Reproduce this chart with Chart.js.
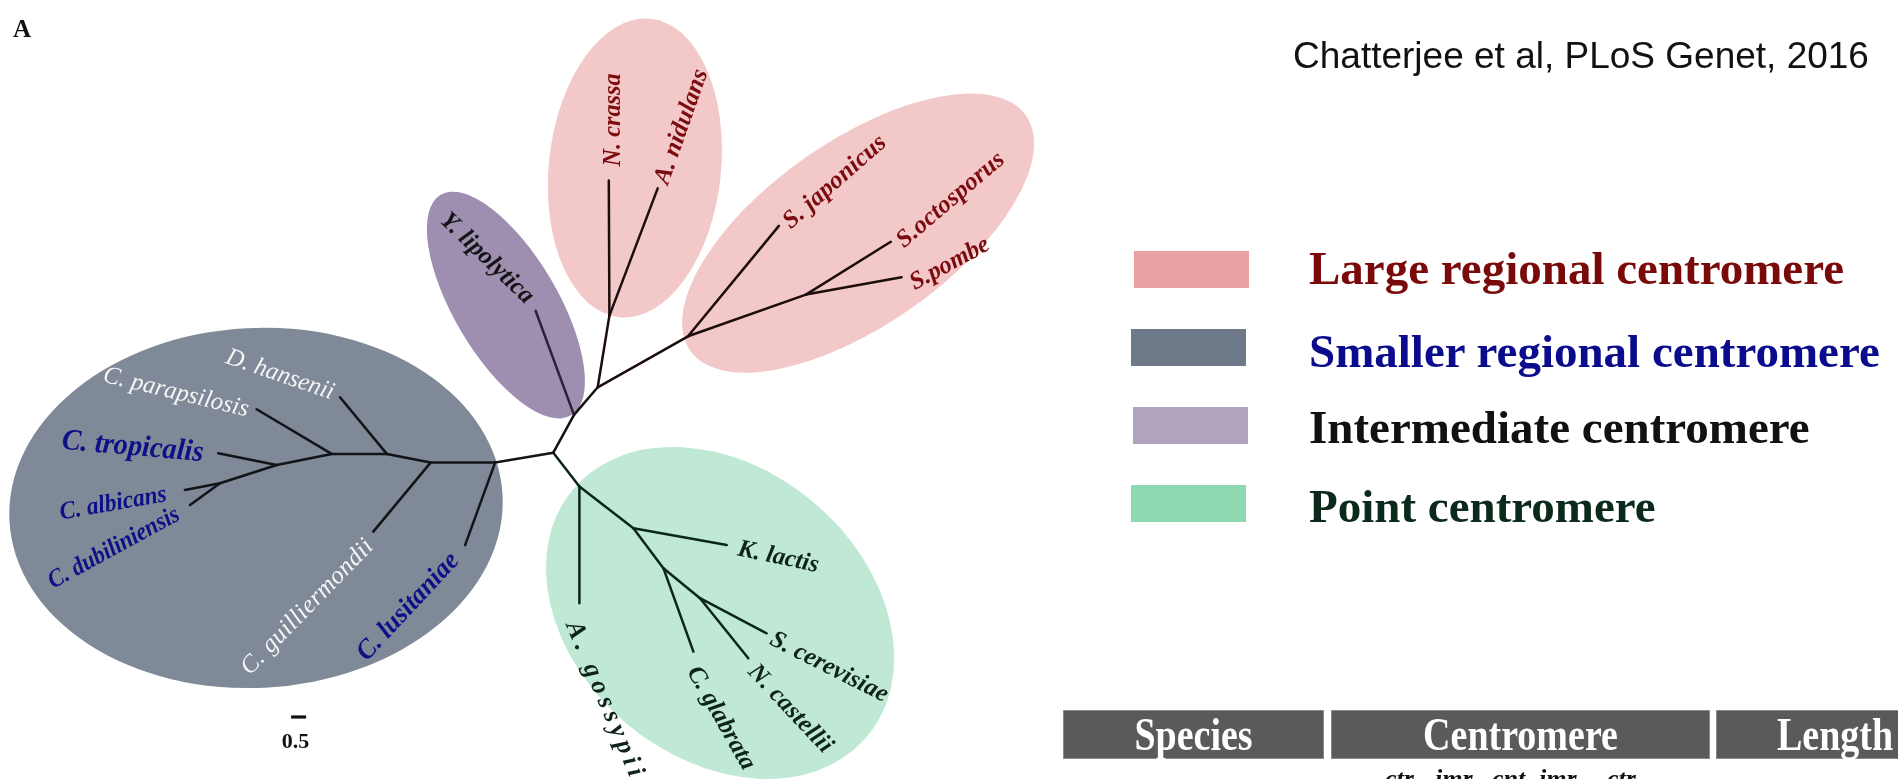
<!DOCTYPE html>
<html>
<head>
<meta charset="utf-8">
<title>Centromere types across the fungal phylogeny</title>
<script src="https://cdn.jsdelivr.net/npm/chart.js@4.4.1/dist/chart.umd.min.js"></script>
<style>
  html, body { margin: 0; padding: 0; width: 1898px; height: 779px; overflow: hidden; background: #ffffff; }
  #wrap { position: relative; width: 1898px; height: 779px; overflow: hidden; }
  #tree { position: absolute; left: 0; top: 0; }
  .txt { position: absolute; white-space: nowrap; line-height: 1; }
  .serif { font-family: 'Liberation Serif', 'Times New Roman', serif; }
  .sans { font-family: 'Liberation Sans', Arial, sans-serif; }
  .swatch { position: absolute; }
  .hdr { position: absolute; top: 710px; height: 49px; box-sizing: border-box; background: #5a5a5a;
         border: 1px solid #8a8a8a; color: #ffffff; display: flex; align-items: center; justify-content: center;
         font: bold 38px 'Liberation Serif', 'Times New Roman', serif; line-height: 1; }
  .hdr span { display: inline-block; transform: scaleY(1.2); transform-origin: 50% 55%; }
</style>
</head>
<body>
<div id="wrap">
  <canvas id="tree" width="1898" height="779"></canvas>
</div>
<script>
// ---- Tree topology: node ids, parent of each node, layout coordinates (branch-length units, root at 0,0) ----
const nodeIds = [
  'root',
  'n1', 'C. lusitaniae', 'n2', 'C. guilliermondii', 'n3', 'D. hansenii', 'n4', 'C. parapsilosis',
  'n5', 'C. tropicalis', 'n6', 'C. albicans', 'C. dubiliniensis',
  'n7', 'Y. lipolytica', 'n8', 'n9', 'N. crassa', 'A. nidulans', 'n10', 'S. japonicus', 'n11', 'S.octosporus', 'S.pombe',
  'n12', 'A. gossypii', 'n13', 'K. lactis', 'n14', 'C. glabrata', 'n15', 'N. castellii', 'S. cerevisiae'
];
const parentIds = [
  null,
  'root', 'n1', 'n1', 'n2', 'n2', 'n3', 'n3', 'n4',
  'n4', 'n5', 'n5', 'n6', 'n6',
  'root', 'n7', 'n7', 'n8', 'n9', 'n9', 'n8', 'n10', 'n10', 'n11', 'n11',
  'root', 'n12', 'n12', 'n13', 'n13', 'n14', 'n14', 'n15', 'n15'
];
const nodeX = [
  0,
  -1.94, -2.94, -4.09, -6.00, -5.55, -7.11, -7.39, -9.89,
  -9.22, -11.17, -11.11, -12.28, -12.11,
  0.69, -0.59, 1.48, 1.87, 1.85, 3.48, 4.49, 7.52, 8.42, 11.25, 11.61,
  0.87, 0.87, 2.67, 5.78, 3.67, 4.67, 4.89, 6.50, 7.11
];
const nodeY = [
  0,
  -0.33, -3.08, -0.33, -2.63, -0.04, 1.85, -0.04, 1.45,
  -0.41, -0.02, -1.02, -1.24, -1.74,
  1.26, 4.73, 2.18, 4.57, 9.07, 8.81, 3.88, 7.56, 5.27, 7.03, 5.85,
  -1.13, -5.02, -2.52, -3.08, -3.85, -6.63, -4.85, -6.85, -6.02
];
// centromere class of the clade each branch leads into
const nodeClade = [
  'trunk',
  'smaller', 'smaller', 'smaller', 'smaller', 'smaller', 'smaller', 'smaller', 'smaller',
  'smaller', 'smaller', 'smaller', 'smaller', 'smaller',
  'trunk', 'intermediate', 'trunk', 'large', 'large', 'large', 'large', 'large', 'large', 'large', 'large',
  'point', 'point', 'point', 'point', 'point', 'point', 'point', 'point', 'point'
];

// ---- Scale bar ----
const scaleBarLength = 0.5;

// ---- Legend ----
const legendLabels = ['Large regional centromere', 'Smaller regional centromere', 'Intermediate centromere', 'Point centromere'];

// ---- Table header ----
const tableHeaders = ['Species', 'Centromere', 'Length'];
const centromereParts = ['ctr', 'imr', 'cnt', 'imr', 'ctr'];

const citation = 'Chatterjee et al, PLoS Genet, 2016';
const panelLetter = 'A';

// ================= styling & layout =================
const PX_PER_UNIT = 30;
const ROOT_PX = { x: 553.3, y: 452.7 };
const W = 1898, H = 779;
const view = {
  xMin: -ROOT_PX.x / PX_PER_UNIT,
  xMax: (W - ROOT_PX.x) / PX_PER_UNIT,
  yMax: ROOT_PX.y / PX_PER_UNIT,
  yMin: (ROOT_PX.y - H) / PX_PER_UNIT
};

const branchColor = {
  trunk: '#121212', smaller: '#121417', intermediate: '#2a2236', large: '#1d0c0c', point: '#0b2619'
};

// clade shading: centre & semi-axes in branch-length units, rotation in degrees (screen, clockwise)
const hulls = [
  { cx: -9.91, cy: -1.84, rx: 8.23, ry: 6.00, rot: -3,   fill: '#7f8997' },
  { cx: -1.58, cy: 4.92,  rx: 4.27, ry: 1.73, rot: 59.4, fill: '#9e8fb1' },
  { cx: 2.72,  cy: 9.49,  rx: 2.87, ry: 5.00, rot: 6,    fill: '#f2c8c8' },
  { cx: 10.16, cy: 7.32,  rx: 6.83, ry: 3.07, rot: -35,  fill: '#f2c8c8' },
  { cx: 5.56,  cy: -5.34, rx: 6.40, ry: 4.83, rot: 40,   fill: '#bfe9d4' }
];

const RED = '#7c0b10', NAVY = '#0d1086', WHITE = '#f6f6f6', BLACK = '#141414', DKGREEN = '#0e2418';
// label placement relative to the leaf tip (px), text angle (deg), run length (px)
const labelLayout = [
  { id: 'N. crassa',        dx: 4.6,   dy: -60.7, angle: -90,   len: 93,  color: RED },
  { id: 'A. nidulans',      dx: 24,    dy: -61.6, angle: -70.6, len: 120, color: RED },
  { id: 'S. japonicus',     dx: 56,    dy: -43.7, angle: -41.3, len: 129, color: RED },
  { id: 'S.octosporus',     dx: 60,    dy: -41.7, angle: -40.4, len: 134, color: RED },
  { id: 'S.pombe',          dx: 48.3,  dy: -13.3, angle: -28.5, len: 87,  color: RED },
  { id: 'Y. lipolytica',    dx: -49,   dy: -52.4, angle: 43.9,  len: 120, color: BLACK },
  { id: 'D. hansenii',      dx: -60,   dy: -22.3, angle: 19,    len: 113, color: WHITE, style: 'italic' },
  { id: 'C. parapsilosis',  dx: -80.7, dy: -16.6, angle: 13.6,  len: 149, color: WHITE, style: 'italic' },
  { id: 'C. tropicalis',    dx: -85.6, dy: -6,    angle: 5,     len: 142, color: NAVY, size: 30 },
  { id: 'C. albicans',      dx: -71.7, dy: 14,    angle: -9.8,  len: 108, color: NAVY },
  { id: 'C. dubiliniensis', dx: -76,   dy: 43.3,  angle: -28.6, len: 146, color: NAVY },
  { id: 'C. guilliermondii',dx: -66,   dy: 75.6,  angle: -45.8, len: 179, color: WHITE, style: 'italic' },
  { id: 'C. lusitaniae',    dx: -56.7, dy: 61.7,  angle: -47,   len: 137, color: NAVY, size: 27 },
  { id: 'K. lactis',        dx: 51.6,  dy: 12.3,  angle: 11.8,  len: 82,  color: DKGREEN },
  { id: 'S. cerevisiae',    dx: 62.3,  dy: 34,    angle: 26.9,  len: 129, color: DKGREEN },
  { id: 'N. castellii',     dx: 41.7,  dy: 50.7,  angle: 46.8,  len: 112, color: DKGREEN },
  { id: 'C. glabrata',      dx: 27.4,  dy: 66.6,  angle: 60.4,  len: 115, color: DKGREEN },
  { id: 'A. gossypii',      dx: 24.7,  dy: 95.7,  angle: 67.2,  len: 166, color: DKGREEN, size: 26 }
];
const scaleBarAt = { x: -8.74, y: -8.81 };
const SERIF = "'Liberation Serif', 'Times New Roman', serif";
const LABEL_SIZE = 25;

// ---- branches: one short line per parent→child edge ----
const datasets = [];
nodeIds.forEach((id, i) => {
  const p = parentIds[i];
  if (p === null) return;
  const j = nodeIds.indexOf(p);
  datasets.push({
    data: [{ x: nodeX[j], y: nodeY[j] }, { x: nodeX[i], y: nodeY[i] }],
    showLine: true, pointRadius: 0, borderWidth: 2.5,
    borderColor: branchColor[nodeClade[i]], borderCapStyle: 'round'
  });
});
// scale bar
datasets.push({
  data: [{ x: scaleBarAt.x, y: scaleBarAt.y }, { x: scaleBarAt.x + scaleBarLength, y: scaleBarAt.y }],
  showLine: true, pointRadius: 0, borderWidth: 3.2, borderColor: '#111111', borderCapStyle: 'butt'
});

const hullPlugin = {
  id: 'cladeHulls',
  beforeDatasetsDraw(chart) {
    const { ctx, scales: { x, y } } = chart;
    const kx = Math.abs(x.getPixelForValue(1) - x.getPixelForValue(0));
    const ky = Math.abs(y.getPixelForValue(1) - y.getPixelForValue(0));
    hulls.forEach(h => {
      ctx.save();
      ctx.beginPath();
      ctx.ellipse(x.getPixelForValue(h.cx), y.getPixelForValue(h.cy), h.rx * kx, h.ry * ky,
                  h.rot * Math.PI / 180, 0, Math.PI * 2);
      ctx.fillStyle = h.fill;
      ctx.fill();
      ctx.restore();
    });
  }
};

const labelPlugin = {
  id: 'tipLabels',
  afterDatasetsDraw(chart) {
    const { ctx, scales: { x, y } } = chart;
    labelLayout.forEach(l => {
      const i = nodeIds.indexOf(l.id);
      const px = x.getPixelForValue(nodeX[i]) + l.dx;
      const py = y.getPixelForValue(nodeY[i]) + l.dy;
      const style = l.style || 'italic bold';
      const size = l.size || LABEL_SIZE;
      ctx.save();
      ctx.translate(px, py);
      ctx.rotate(l.angle * Math.PI / 180);
      ctx.font = `${style} ${size}px ${SERIF}`;
      const w = ctx.measureText(l.id).width;
      let sp = 0;
      if (w > l.len) {
        ctx.scale(l.len / w, 1);            // condense to the run length
      } else {
        sp = (l.len - w) / Math.max(1, l.id.length - 1);
        if ('letterSpacing' in ctx) ctx.letterSpacing = sp.toFixed(2) + 'px';
      }
      ctx.textAlign = 'center';
      ctx.textBaseline = 'middle';
      ctx.fillStyle = l.color;
      ctx.fillText(l.id, sp / 2, 0);
      ctx.restore();
    });
    // scale bar value
    const bx = x.getPixelForValue(scaleBarAt.x + scaleBarLength / 2);
    const by = y.getPixelForValue(scaleBarAt.y);
    ctx.save();
    ctx.font = `bold 22px ${SERIF}`;
    ctx.fillStyle = '#111111';
    ctx.textAlign = 'center';
    ctx.textBaseline = 'alphabetic';
    ctx.fillText(String(scaleBarLength), bx - 3, by + 31);
    ctx.restore();
  }
};

new Chart(document.getElementById('tree'), {
  type: 'scatter',
  data: { datasets },
  options: {
    responsive: false,
    devicePixelRatio: 1,
    animation: false,
    events: [],
    layout: { padding: 0 },
    plugins: { legend: { display: false }, tooltip: { enabled: false } },
    scales: {
      x: { type: 'linear', min: view.xMin, max: view.xMax, display: false },
      y: { type: 'linear', min: view.yMin, max: view.yMax, display: false }
    }
  },
  plugins: [hullPlugin, labelPlugin]
});

// ---- page text: panel letter, citation, legend, table header ----
const wrap = document.getElementById('wrap');
function addText(text, left, baseline, size, cls, color, weight, style, ascent) {
  const d = document.createElement('div');
  d.className = 'txt ' + cls;
  d.textContent = text;
  d.style.left = left + 'px';
  d.style.top = (baseline - ascent * size) + 'px';
  d.style.fontSize = size + 'px';
  d.style.color = color;
  d.style.fontWeight = weight || 'normal';
  d.style.fontStyle = style || 'normal';
  wrap.appendChild(d);
  return d;
}
addText(panelLetter, 13, 37, 25, 'serif', '#111111', 'bold', 'normal', 0.8375);
addText(citation, 1293, 68, 37, 'sans', '#111111', 'normal', 'normal', 0.8465);

const legendSwatch = ['#e9a2a2', '#6e7989', '#afa3bf', '#8ed8b2'];
const legendTextColor = ['#7a0a0a', '#0b0b8d', '#111111', '#0b2a1b'];
const legendBoxTop = [250.7, 329.3, 407.3, 485];
const legendBoxLeft = [1134, 1131, 1133, 1131];
const legendBaseline = [284, 367.5, 443.5, 522.5];
legendLabels.forEach((t, i) => {
  const s = document.createElement('div');
  s.className = 'swatch';
  s.style.left = legendBoxLeft[i] + 'px';
  s.style.top = legendBoxTop[i] + 'px';
  s.style.width = '115px';
  s.style.height = '37px';
  s.style.background = legendSwatch[i];
  wrap.appendChild(s);
  addText(t, 1309, legendBaseline[i], 47, 'serif', legendTextColor[i], 'bold', 'normal', 0.8375);
});

const hdrLeft = [1063, 1331, 1716];
const hdrWidth = [261, 379, 238];
tableHeaders.forEach((t, i) => {
  const h = document.createElement('div');
  h.className = 'hdr';
  h.style.left = hdrLeft[i] + 'px';
  h.style.width = hdrWidth[i] + 'px';
  const sp = document.createElement('span');
  sp.textContent = t;
  h.appendChild(sp);
  wrap.appendChild(h);
});
const partLeft = [1385, 1435, 1492, 1539, 1607];
centromereParts.forEach((t, i) => {
  addText(t, partLeft[i], 788, 26, 'serif', '#111111', 'bold', 'italic', 0.8375);
});
</script>
</body>
</html>
